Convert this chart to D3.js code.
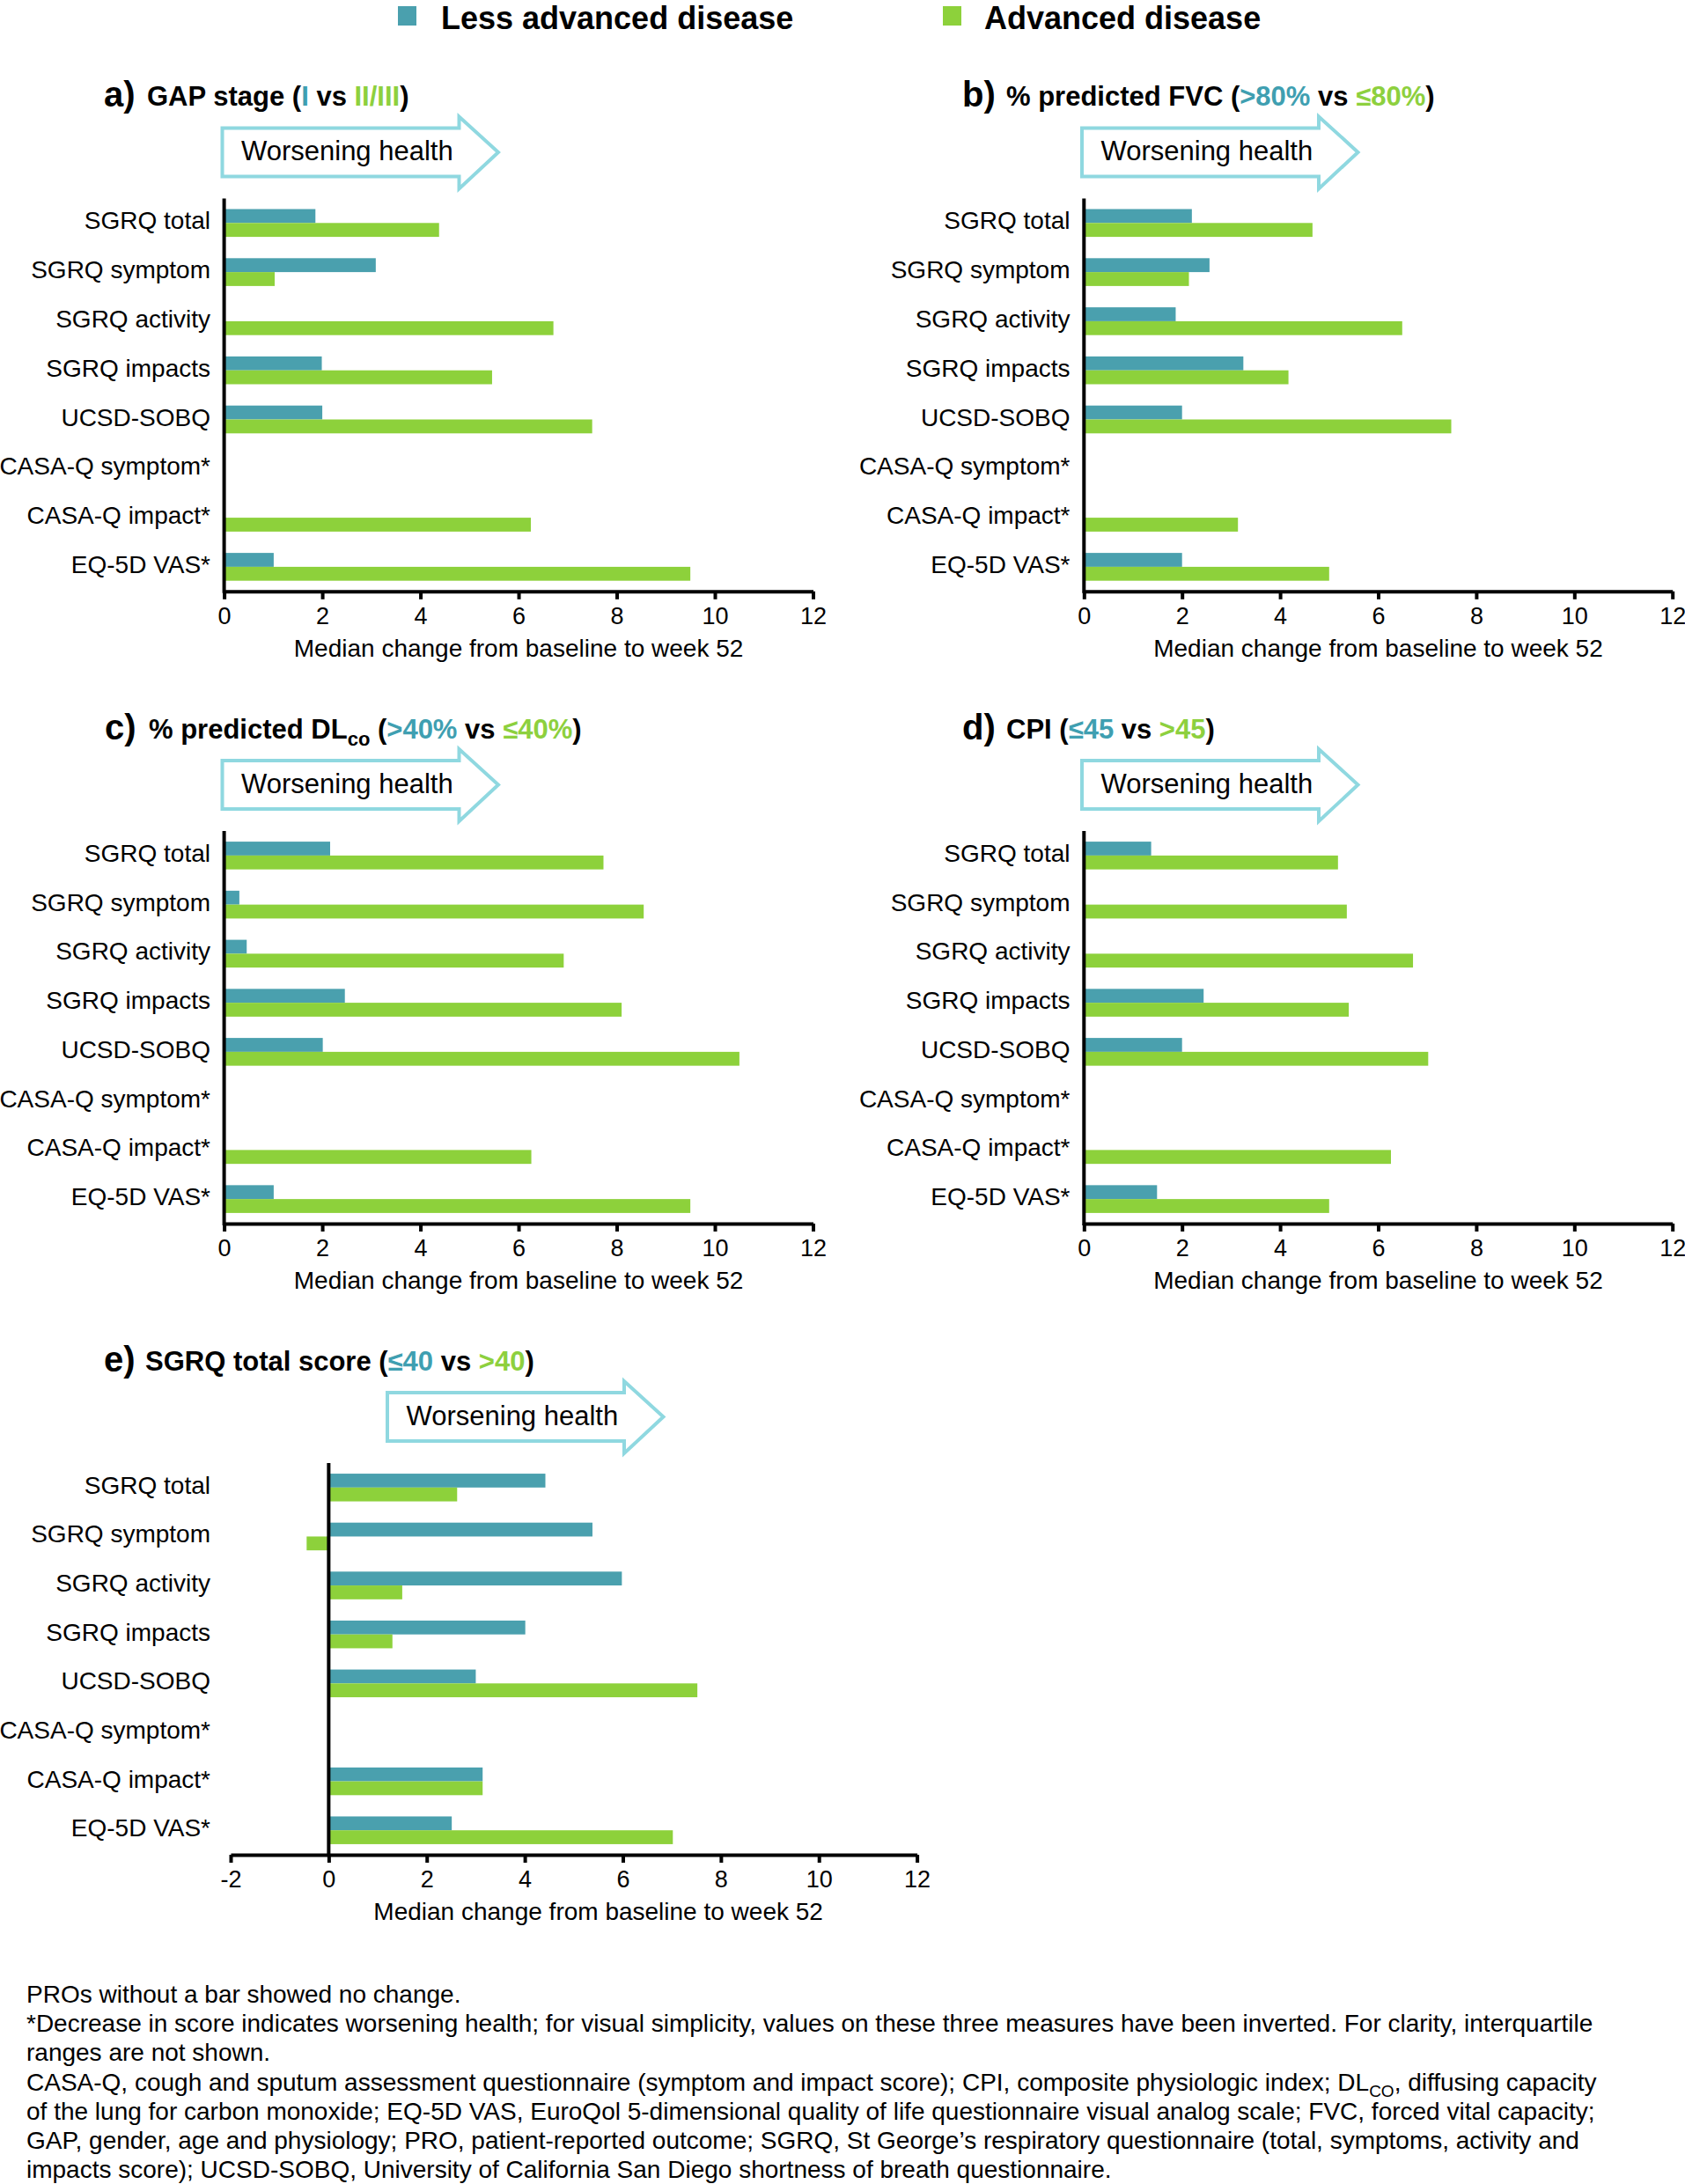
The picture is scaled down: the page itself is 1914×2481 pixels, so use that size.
<!DOCTYPE html>
<html><head><meta charset="utf-8">
<script src="https://cdn.jsdelivr.net/npm/d3@7"></script>
<style>
body{margin:0;background:#fff}
svg{display:block}
text{font-family:"Liberation Sans",Arial,Helvetica,sans-serif;fill:#000}
</style>
</head><body>
<svg id="chart" width="1914" height="2481"></svg>
<script>
// ---------- DATA ----------
const categories = ["SGRQ total","SGRQ symptom","SGRQ activity","SGRQ impacts","UCSD-SOBQ","CASA-Q symptom*","CASA-Q impact*","EQ-5D VAS*"];
const seriesNames = ["Less advanced disease","Advanced disease"];
// a) GAP stage (I vs II/III)
const gapLess = [1.86, 3.09, 0, 1.99, 2.00, 0, 0, 1.01];
const gapAdv  = [4.38, 1.03, 6.71, 5.46, 7.50, 0, 6.25, 9.50];
// b) % predicted FVC (>80% vs <=80%)
const fvcLess = [2.20, 2.56, 1.87, 3.25, 2.00, 0, 0, 2.00];
const fvcAdv  = [4.66, 2.14, 6.49, 4.17, 7.49, 0, 3.14, 5.00];
// c) % predicted DLco (>40% vs <=40%)
const dlcoLess = [2.16, 0.31, 0.46, 2.46, 2.01, 0, 0, 1.01];
const dlcoAdv  = [7.73, 8.55, 6.92, 8.10, 10.50, 0, 6.26, 9.50];
// d) CPI (<=45 vs >45)
const cpiLess = [1.37, 0, 0, 2.44, 2.00, 0, 0, 1.49];
const cpiAdv  = [5.18, 5.36, 6.71, 5.40, 7.02, 0, 6.26, 5.00];
// e) SGRQ total score (<=40 vs >40)
const sgrqLess = [4.42, 5.38, 5.98, 4.01, 3.00, 0, 3.14, 2.51];
const sgrqAdv  = [2.62, -0.45, 1.50, 1.30, 7.52, 0, 3.14, 7.02];
const ticksMain = [0, 2, 4, 6, 8, 10, 12];
const ticksE = [-2, 0, 2, 4, 6, 8, 10, 12];
const axisTitle = "Median change from baseline to week 52";
const arrowLabel = "Worsening health";
const footnotes = [
  [["PROs without a bar showed no change."]],
  [["*Decrease in score indicates worsening health; for visual simplicity, values on these three measures have been inverted. For clarity, interquartile"]],
  [["ranges are not shown."]],
  [["CASA-Q, cough and sputum assessment questionnaire (symptom and impact score); CPI, composite physiologic index; DL"],["CO","sub"],[", diffusing capacity"]],
  [["of the lung for carbon monoxide; EQ-5D VAS, EuroQol 5-dimensional quality of life questionnaire visual analog scale; FVC, forced vital capacity;"]],
  [["GAP, gender, age and physiology; PRO, patient-reported outcome; SGRQ, St George\u2019s respiratory questionnaire (total, symptoms, activity and"]],
  [["impacts score); UCSD-SOBQ, University of California San Diego shortness of breath questionnaire."]]
];

// ---------- STYLE ----------
const TEAL = "#4aa0ae", GREEN = "#8dd13b", ARROW = "#8fd8e0";
const colorOf = {k:"#000", t:"#3f9fb1", g:"#8dd03e"};

const panels = [
  {letter:"a)", title:[["GAP stage (","k"],["I","t"],[" vs ","k"],["II/III","g"],[")","k"]],
   less:gapLess, adv:gapAdv, domain:[0,12], ticks:ticksMain,
   r0:254.6, r1:923.5, top:225.4, bottom:671.8, letterX:118, titleX:167, labelX:239, arrowX:252.5, titleVal:6},
  {letter:"b)", title:[["% predicted FVC (","k"],[">80%","t"],[" vs ","k"],["\u226480%","g"],[")","k"]],
   less:fvcLess, adv:fvcAdv, domain:[0,12], ticks:ticksMain,
   r0:1231.3, r1:1899.7, top:225.4, bottom:671.8, letterX:1093, titleX:1143, labelX:1215.5, arrowX:1229, titleVal:6},
  {letter:"c)", title:[["% predicted DL","k"],["co","k","sub"],[" (","k"],[">40%","t"],[" vs ","k"],["\u226440%","g"],[")","k"]],
   less:dlcoLess, adv:dlcoAdv, domain:[0,12], ticks:ticksMain,
   r0:254.6, r1:923.5, top:944, bottom:1390, letterX:119, titleX:169, labelX:239, arrowX:252.5, titleVal:6},
  {letter:"d)", title:[["CPI (","k"],["\u226445","t"],[" vs ","k"],[">45","g"],[")","k"]],
   less:cpiLess, adv:cpiAdv, domain:[0,12], ticks:ticksMain,
   r0:1231.3, r1:1899.7, top:944, bottom:1390, letterX:1093, titleX:1143, labelX:1215.5, arrowX:1229, titleVal:6},
  {letter:"e)", title:[["SGRQ total score (","k"],["\u226440","t"],[" vs ","k"],[">40","g"],[")","k"]],
   less:sgrqLess, adv:sgrqAdv, domain:[-2,12], ticks:ticksE,
   r0:262, r1:1041.6, top:1662, bottom:2107, letterX:118, titleX:165, labelX:239, arrowX:440, titleVal:5.5}
];

const svg = d3.select("#chart");

// ---------- LEGEND ----------
const legend = [
  {name:seriesNames[0], color:TEAL, sx:452, tx:501},
  {name:seriesNames[1], color:GREEN, sx:1071, tx:1118}
];
legend.forEach(l => {
  svg.append("rect").attr("x", l.sx).attr("y", 7).attr("width", 21).attr("height", 22).attr("fill", l.color);
  svg.append("text").attr("x", l.tx).attr("y", 33).attr("font-size", 36).attr("font-weight", "bold")
     .text(l.name);
});

// ---------- PANELS ----------
panels.forEach(p => {
  const g = svg.append("g");
  const x = d3.scaleLinear().domain(p.domain).range([p.r0, p.r1]);
  const y = d3.scaleBand().domain(categories).range([p.top, p.bottom]).paddingInner(0.434).paddingOuter(0.217);
  const ySub = d3.scaleBand().domain(["less","adv"]).range([0, y.bandwidth()]);

  // title
  g.append("text").attr("x", p.letterX).attr("y", p.top - 104).attr("font-size", 40).attr("font-weight", "bold").text(p.letter);
  const t = g.append("text").attr("x", p.titleX).attr("y", p.top - 105).attr("font-size", 31).attr("font-weight", "bold");
  let shifted = false;
  p.title.forEach(seg => {
    const ts = t.append("tspan").text(seg[0]).attr("fill", colorOf[seg[1]]);
    if (seg[2] === "sub") { ts.attr("font-size", 22).attr("dy", 8); shifted = true; }
    else if (shifted) { ts.attr("dy", -8); shifted = false; }
  });

  // arrow
  const L = p.arrowX, H = L + 269, X = L + 313.5;
  const T = p.top - 80, B = p.top - 25, HT = p.top - 93, HB = p.top - 11, TY = p.top - 52.5;
  g.append("path")
    .attr("d", `M${L},${T}L${H},${T}L${H},${HT}L${X},${TY}L${H},${HB}L${H},${B}L${L},${B}Z`)
    .attr("fill", "#fff").attr("stroke", ARROW).attr("stroke-width", 4).attr("stroke-linejoin", "miter");
  g.append("text").attr("x", L + 21.5).attr("y", p.top - 43).attr("font-size", 31).text(arrowLabel);

  // bars
  const rows = categories.map((c, i) => ({c, less:p.less[i], adv:p.adv[i]}));
  const bars = [];
  rows.forEach(r => {
    if (r.less !== 0) bars.push({c:r.c, k:"less", v:r.less});
    if (r.adv !== 0) bars.push({c:r.c, k:"adv", v:r.adv});
  });
  g.selectAll("rect.bar").data(bars).enter().append("rect").attr("class", "bar")
    .attr("x", d => Math.min(x(0), x(d.v)))
    .attr("width", d => Math.abs(x(d.v) - x(0)))
    .attr("y", d => y(d.c) + ySub(d.k))
    .attr("height", ySub.bandwidth())
    .attr("fill", d => d.k === "less" ? TEAL : GREEN);

  // category labels
  g.selectAll("text.cat").data(categories).enter().append("text").attr("class", "cat")
    .attr("x", p.labelX).attr("y", d => y(d) + y.bandwidth() / 2 + 7)
    .attr("text-anchor", "end").attr("font-size", 28).text(d => d);

  // x axis
  const ax = g.append("g").attr("transform", `translate(0,${p.bottom})`)
    .call(d3.axisBottom(x).tickValues(p.ticks).tickSize(9).tickSizeOuter(0).tickPadding(9).tickFormat(d => String(d)));
  ax.select(".domain").attr("stroke", "#000").attr("stroke-width", 4);
  ax.selectAll(".tick line").attr("stroke", "#000").attr("stroke-width", 4);
  ax.selectAll(".tick text").attr("font-size", 27).attr("font-family", "Liberation Sans, Arial, sans-serif").attr("fill", "#000");

  // y axis line
  g.append("line").attr("x1", x(0)).attr("x2", x(0)).attr("y1", p.top).attr("y2", p.bottom + 2)
    .attr("stroke", "#000").attr("stroke-width", 4);

  // axis title
  g.append("text").attr("x", x(p.titleVal)).attr("y", p.bottom + 74).attr("text-anchor", "middle")
    .attr("font-size", 28).text(axisTitle);
});

// ---------- FOOTNOTES ----------
footnotes.forEach((line, i) => {
  const t = svg.append("text").attr("x", 30).attr("y", 2275 + i * 33.2).attr("font-size", 28);
  let shifted = false;
  line.forEach(seg => {
    const ts = t.append("tspan").text(seg[0]);
    if (seg[1] === "sub") { ts.attr("font-size", 19).attr("dy", 7); shifted = true; }
    else if (shifted) { ts.attr("dy", -7); shifted = false; }
  });
});
</script>
</body></html>
